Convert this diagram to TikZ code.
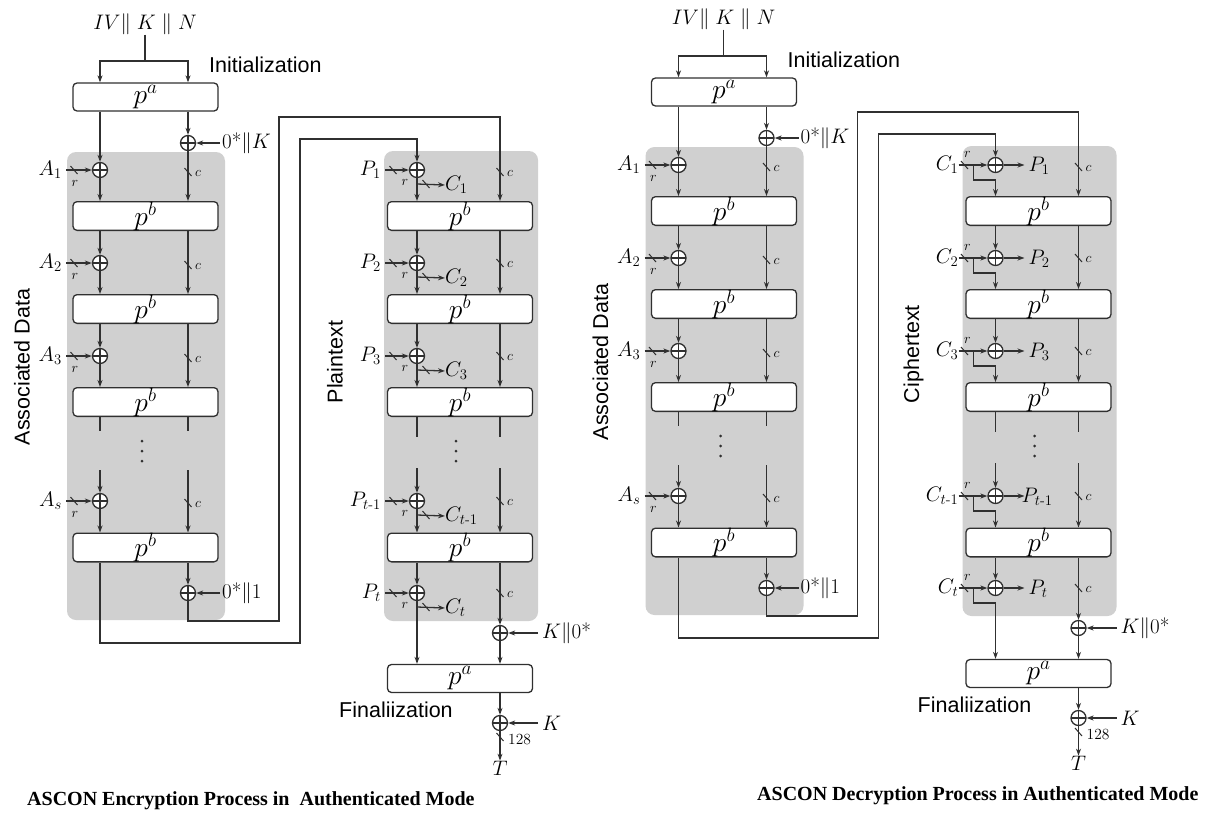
\RequirePackage{fix-cm}
\documentclass[tikz,border=0pt]{standalone}
\usepackage{amsmath}
\usepackage{fontspec}
\usetikzlibrary{arrows.meta}
\newfontfamily\sansf{Liberation Sans}
\newfontfamily\capf{Liberation Serif}
\definecolor{linec}{HTML}{303030}
\definecolor{bgc}{HTML}{D0D0D0}
\tikzset{
  ln/.style={draw=linec, line width=1.3pt},
  arr/.style={draw=linec, line width=1.3pt, -{Stealth[length=7pt,width=5pt]}},
  blk/.style={draw=linec, line width=1.3pt, fill=white, rounded corners=4pt,
    minimum width=145pt, minimum height=28pt, inner sep=0pt, font=\fontsize{27.5}{30}\selectfont},
  xo/.style={circle, draw=linec, line width=1.3pt, fill=white, minimum size=15pt, inner sep=0pt,
    path picture={\draw[linec,line width=1.3pt]
      (path picture bounding box.north) -- (path picture bounding box.south)
      (path picture bounding box.west) -- (path picture bounding box.east);}},
  mlab/.style={inner sep=0pt, font=\fontsize{21}{24}\selectfont},
  slab/.style={inner sep=0pt, font=\fontsize{14}{16}\selectfont},
  nlab/.style={inner sep=0pt, font=\fontsize{15.5}{17}\selectfont},
  sans/.style={inner sep=0pt, font=\sansf\fontsize{21.5}{24}\selectfont},
  captxt/.style={inner sep=0pt, font=\capf\bfseries\fontsize{20}{24}\selectfont},
  tick/.style={draw=linec, line width=1pt},
}
\newcommand\tickmark[2]{\draw[tick] (#1-3.5,#2-4) -- (#1+3.5,#2+4);}
\newcommand\asconhalf[2]{%
  \fill[bgc,rounded corners=9pt] (67,152) rectangle (225,620);
  \fill[bgc,rounded corners=9pt] (384,151) rectangle (538,621);
  \coordinate (#1cA) at (100,0);
  \coordinate (#1cB) at (188,0);
  \coordinate (#1cP) at (417,0);
  \coordinate (#1cQ) at (500,0);
  % initialization
  \node[mlab] (#1iv) at (145,24) {$IV\|\;K\;\|\;N$};
  \node[blk] (#1pa) at (145.5,97) {$p^a$};
  \node[sans,anchor=west] (#1init) at (209,65) {Initialization};
  \coordinate (#1split) at (145,61);
  \draw[ln] (#1iv.south) -- (#1split);
  \draw[arr] (#1split) -| (#1pa.north -| #1cA);
  \draw[arr] (#1split) -| (#1pa.north -| #1cB);
  % associated data boxes and xors
  \foreach \i/\y in {1/216,2/309,3/402,4/547.5} {\node[blk] (#1b\i) at (145.5,\y) {$p^b$};}
  \foreach \i/\y/\al in {1/170/A_1,2/263/A_2,3/356/A_3,4/501/A_s} {
    \node[xo] (#1x\i) at (100,\y) {};
    \node[mlab,anchor=east] (#1al\i) at (62,\y) {$\al$};
    \draw[arr] ([xshift=4pt]#1al\i.east) -- (#1x\i);
    \tickmark{74}{\y}
    \node[slab] at (75,\y+13) {$r$};
    \tickmark{188}{\y+2}
    \node[slab,anchor=west] at (195,\y+3) {$c$};
  }
  \node[xo] (#1xk) at (188,143) {};
  \node[xo] (#1xo) at (188,593) {};
  \node[mlab,anchor=west] (#1k0) at (222,143) {$0\text{*}\|K$};
  \node[mlab,anchor=west] (#1o1) at (222,593) {$0\text{*}\|1$};
  \draw[arr,shorten <=2pt] (#1k0.west) -- (#1xk);
  \draw[arr,shorten <=2pt] (#1o1.west) -- (#1xo);
  \node[sans,rotate=90] at (22,367) {Associated Data};
  % AD rate column
  \draw[arr] (#1pa.south -| #1cA) -- (#1x1);
  \draw[arr] (#1x1) -- (#1b1.north -| #1cA);
  \draw[arr] (#1b1.south -| #1cA) -- (#1x2);
  \draw[arr] (#1x2) -- (#1b2.north -| #1cA);
  \draw[arr] (#1b2.south -| #1cA) -- (#1x3);
  \draw[arr] (#1x3) -- (#1b3.north -| #1cA);
  \draw[ln] (#1b3.south -| #1cA) -- ++(0,14);
  \coordinate (#1ra) at (100,470);
  \draw[arr] (#1ra) -- (#1x4);
  \draw[arr] (#1x4) -- (#1b4.north -| #1cA);
  % AD capacity column
  \draw[arr] (#1pa.south -| #1cB) -- (#1xk);
  \draw[arr] (#1xk) -- (#1b1.north -| #1cB);
  \draw[arr] (#1b1.south -| #1cB) -- (#1b2.north -| #1cB);
  \draw[arr] (#1b2.south -| #1cB) -- (#1b3.north -| #1cB);
  \draw[ln] (#1b3.south -| #1cB) -- ++(0,14);
  \coordinate (#1rb) at (188,470);
  \draw[arr] (#1rb) -- (#1b4.north -| #1cB);
  \draw[arr] (#1b4.south -| #1cB) -- (#1xo);
  \fill[linec] (142,441) circle (1.5) (142,451) circle (1.5) (142,461) circle (1.5);
  % message section boxes and xors
  \foreach \i/\y in {1/216,2/309,3/402,4/547.5} {\node[blk] (#1q\i) at (460,\y) {$p^b$};}
  \foreach \i/\y in {1/170,2/263,3/356,4/501,5/593} {\node[xo] (#1y\i) at (417,\y) {};}
  % routing between sections
  \coordinate (#1u1) at (100,643);
  \coordinate (#1u2) at (300,643);
  \coordinate (#1u3) at (300,139);
  \draw[arr] (#1b4.south -| #1cA) -- (#1u1) -- (#1u2) -- (#1u3) -- (#1u3 -| #1cP) -- (#1y1);
  \coordinate (#1v1) at (188,621);
  \coordinate (#1v2) at (279,621);
  \coordinate (#1v3) at (279,117);
  \draw[arr] (#1xo) -- (#1v1) -- (#1v2) -- (#1v3) -- (#1v3 -| #1cQ) -- (#1q1.north -| #1cQ);
  % message rate column (common part)
  \draw[arr] (#1q1.south -| #1cP) -- (#1y2);
  \draw[arr] (#1q2.south -| #1cP) -- (#1y3);
  \draw[ln] (#1q3.south -| #1cP) -- ++(0,20);
  \coordinate (#1rp) at (417,468);
  \draw[arr] (#1rp) -- (#1y4);
  \draw[arr] (#1q4.south -| #1cP) -- (#1y5);
  % message capacity column
  \draw[arr] (#1q1.south -| #1cQ) -- (#1q2.north -| #1cQ);
  \draw[arr] (#1q2.south -| #1cQ) -- (#1q3.north -| #1cQ);
  \draw[ln] (#1q3.south -| #1cQ) -- ++(0,20);
  \coordinate (#1rq) at (500,468);
  \draw[arr] (#1rq) -- (#1q4.north -| #1cQ);
  \foreach \y in {172,263,356,501,593} {
    \tickmark{500}{\y}
    \node[slab,anchor=west] at (507,\y+1) {$c$};
  }
  \fill[linec] (456,441) circle (1.5) (456,451) circle (1.5) (456,461) circle (1.5);
  % finalization
  \node[xo] (#1xf) at (500,633) {};
  \node[blk] (#1fa) at (460,678.5) {$p^a$};
  \node[xo] (#1xt) at (500,723) {};
  \node[sans,anchor=west] at (339,710) {Finaliization};
  \node[mlab,anchor=west] (#1kz) at (542,633) {$K\|0\text{*}$};
  \node[mlab,anchor=west] (#1kk) at (542,723) {$K$};
  \node[mlab] (#1tt) at (500,768) {$T$};
  \draw[arr] (#1q4.south -| #1cQ) -- (#1xf);
  \draw[arr,shorten <=4pt] (#1kz.west) -- (#1xf);
  \draw[arr] (#1xf) -- (#1fa.north -| #1cQ);
  \draw[arr] (#1fa.south -| #1cQ) -- (#1xt);
  \draw[arr] ([xshift=-4pt]#1kk.west) -- (#1xt);
  \draw[arr] (#1xt) -- (#1tt.north);
  \tickmark{500}{737}
  \node[nlab,anchor=west] at (508,739) {$128$};
  \ifnum#2=0
    \node[sans,rotate=90] at (335,362) {Plaintext};
    \foreach \i/\y/\pl/\cl in {1/170/P_1/C_1,2/263/P_2/C_2,3/356/P_3/C_3,4/501/{P_{t\text{-}1}}/{C_{t\text{-}1}},5/593/P_t/C_t} {
      \node[mlab,anchor=east] (#1pl\i) at (381,\y) {$\pl$};
      \draw[arr] ([xshift=4pt]#1pl\i.east) -- (#1y\i);
      \tickmark{393}{\y}
      \node[slab] at (405,\y+12) {$r$};
      \coordinate (#1br\i) at (417,\y+14);
      \node[mlab,anchor=west] (#1cl\i) at (445,\y+15) {$\cl$};
      \draw[arr] (#1br\i) -- (#1cl\i.west);
      \tickmark{426}{\y+14}
    }
    \draw[arr] (#1y1) -- (#1q1.north -| #1cP);
    \draw[arr] (#1y2) -- (#1q2.north -| #1cP);
    \draw[arr] (#1y3) -- (#1q3.north -| #1cP);
    \draw[arr] (#1y4) -- (#1q4.north -| #1cP);
    \draw[arr] (#1y5) -- (#1fa.north -| #1cP);
  \else
    \node[sans,rotate=90] at (335,359) {Ciphertext};
    \foreach \i/\y/\pl/\cl/\px in {1/170/P_1/C_1/450,2/263/P_2/C_2/450,3/356/P_3/C_3/450,4/501/{P_{t\text{-}1}}/{C_{t\text{-}1}}/443,5/593/P_t/C_t/450} {
      \node[mlab,anchor=east] (#1cl\i) at (380,\y) {$\cl$};
      \draw[arr] (#1cl\i.east) -- (#1y\i);
      \tickmark{386}{\y}
      \node[slab] at (389,\y-11) {$r$};
      \node[mlab,anchor=west] (#1pl\i) at (\px,\y+1) {$\pl$};
      \coordinate (#1pt\i) at (446,\y);
      \draw[arr] (#1y\i) -- (#1pt\i);
      \coordinate (#1bs\i) at (395,\y);
      \coordinate (#1bc\i) at (417,\y+15);
    }
    \draw[arr] (#1bs1) |- (#1bc1) -- (#1q1.north -| #1cP);
    \draw[arr] (#1bs2) |- (#1bc2) -- (#1q2.north -| #1cP);
    \draw[arr] (#1bs3) |- (#1bc3) -- (#1q3.north -| #1cP);
    \draw[arr] (#1bs4) |- (#1bc4) -- (#1q4.north -| #1cP);
    \draw[arr] (#1bs5) |- (#1bc5) -- (#1fa.north -| #1cP);
  \fi
}
\begin{document}
\begin{tikzpicture}[x=1pt,y=-1pt]
\useasboundingbox (0,0) rectangle (1208,817);
\asconhalf{e}{0}
\begin{scope}[shift={(578.5,-5)}]
\asconhalf{d}{1}
\end{scope}
\node[captxt,anchor=west] (capE) at (27,801) {ASCON Encryption Process in\ \ Authenticated Mode};
\node[captxt,anchor=west] (capD) at (757,796) {ASCON Decryption Process in Authenticated Mode};
\end{tikzpicture}
\end{document}
